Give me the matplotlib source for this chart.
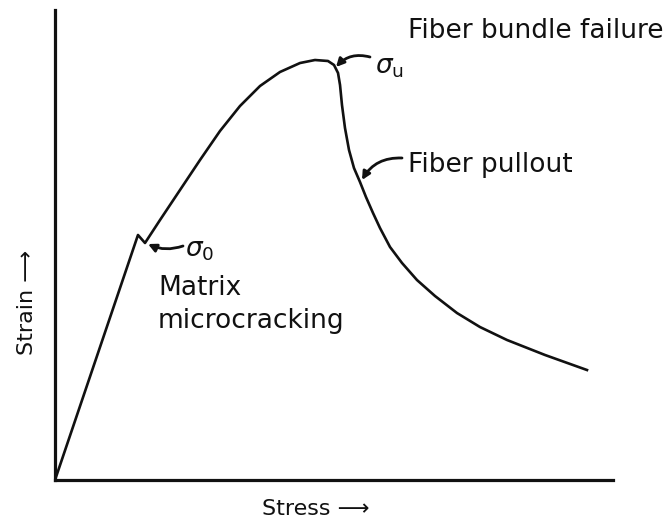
import matplotlib
matplotlib.use("Agg")
import matplotlib.pyplot as plt

# stress-strain curve (arbitrary units, axes 0..10)
stress = [0.0, 1.487, 1.613, 1.882, 2.240, 2.599, 2.957, 3.315, 3.674, 4.032,
          4.391, 4.659, 4.892, 5.000, 5.072, 5.108, 5.143, 5.197, 5.269, 5.358,
          5.466, 5.573, 5.699, 5.824, 6.004, 6.219, 6.487, 6.810, 7.204, 7.616,
          8.100, 8.781, 9.534]
strain = [0.0, 5.213, 5.043, 5.532, 6.170, 6.809, 7.426, 7.957, 8.383, 8.681,
          8.872, 8.936, 8.915, 8.830, 8.660, 8.404, 7.979, 7.489, 7.021, 6.638,
          6.340, 6.021, 5.681, 5.362, 4.957, 4.617, 4.255, 3.915, 3.553, 3.255,
          2.979, 2.660, 2.340]

labels = ["Fiber bundle failure", "Fiber pullout", "Matrix", "microcracking"]

plt.rcParams['font.family'] = ['DejaVu Sans']

fig = plt.figure(figsize=(6.69, 5.19), dpi=100)
ax = fig.add_axes([55/669, 39/519, 558/669, 470/519])
ax.set_xlim(0, 10)
ax.set_ylim(0, 10)

ax.plot(stress, strain, color='#111111', lw=1.9, solid_joinstyle='round')

for s in ['top', 'right']:
    ax.spines[s].set_visible(False)
for s in ['left', 'bottom']:
    ax.spines[s].set_linewidth(2.3)
    ax.spines[s].set_color('#111111')
ax.set_xticks([])
ax.set_yticks([])

fs = 19
ax.text(6.326, 9.404, labels[0], fontsize=fs, color='#111111', va='baseline', clip_on=False)
ax.text(6.326, 6.553, labels[1], fontsize=fs, color='#111111', va='baseline')
ax.text(1.846, 3.936, labels[2], fontsize=fs, color='#111111', va='baseline')
ax.text(1.846, 3.234, labels[3], fontsize=fs, color='#111111', va='baseline')

ax.text(5.735, 8.787, r'$\sigma_{\mathrm{u}}$', fontsize=fs, color='#111111', va='center')
ax.text(2.330, 4.894, r'$\sigma_0$', fontsize=fs, color='#111111', va='center')

arrow = dict(arrowstyle='-|>', color='#111111', lw=2, mutation_scale=12,
             shrinkA=0, shrinkB=0)
ax.annotate('', xy=(1.667, 5.021), xytext=(2.294, 4.979),
            arrowprops=dict(arrow, connectionstyle='arc3,rad=-0.2'))
ax.annotate('', xy=(5.036, 8.787), xytext=(5.645, 9.0),
            arrowprops=dict(arrow, connectionstyle='arc3,rad=0.3'))
ax.annotate('', xy=(5.502, 6.383), xytext=(6.219, 6.851),
            arrowprops=dict(arrow, connectionstyle='arc3,rad=0.3'))

ax.text(3.710, -0.745, 'Stress \u27f6', fontsize=16, color='#111111',
        va='baseline', clip_on=False)
ax.text(-0.394, 2.660, 'Strain \u27f6', fontsize=16, color='#111111', rotation=90,
        rotation_mode='anchor', ha='left', va='baseline', clip_on=False)

fig.savefig('out.png', dpi=100, facecolor='white')
